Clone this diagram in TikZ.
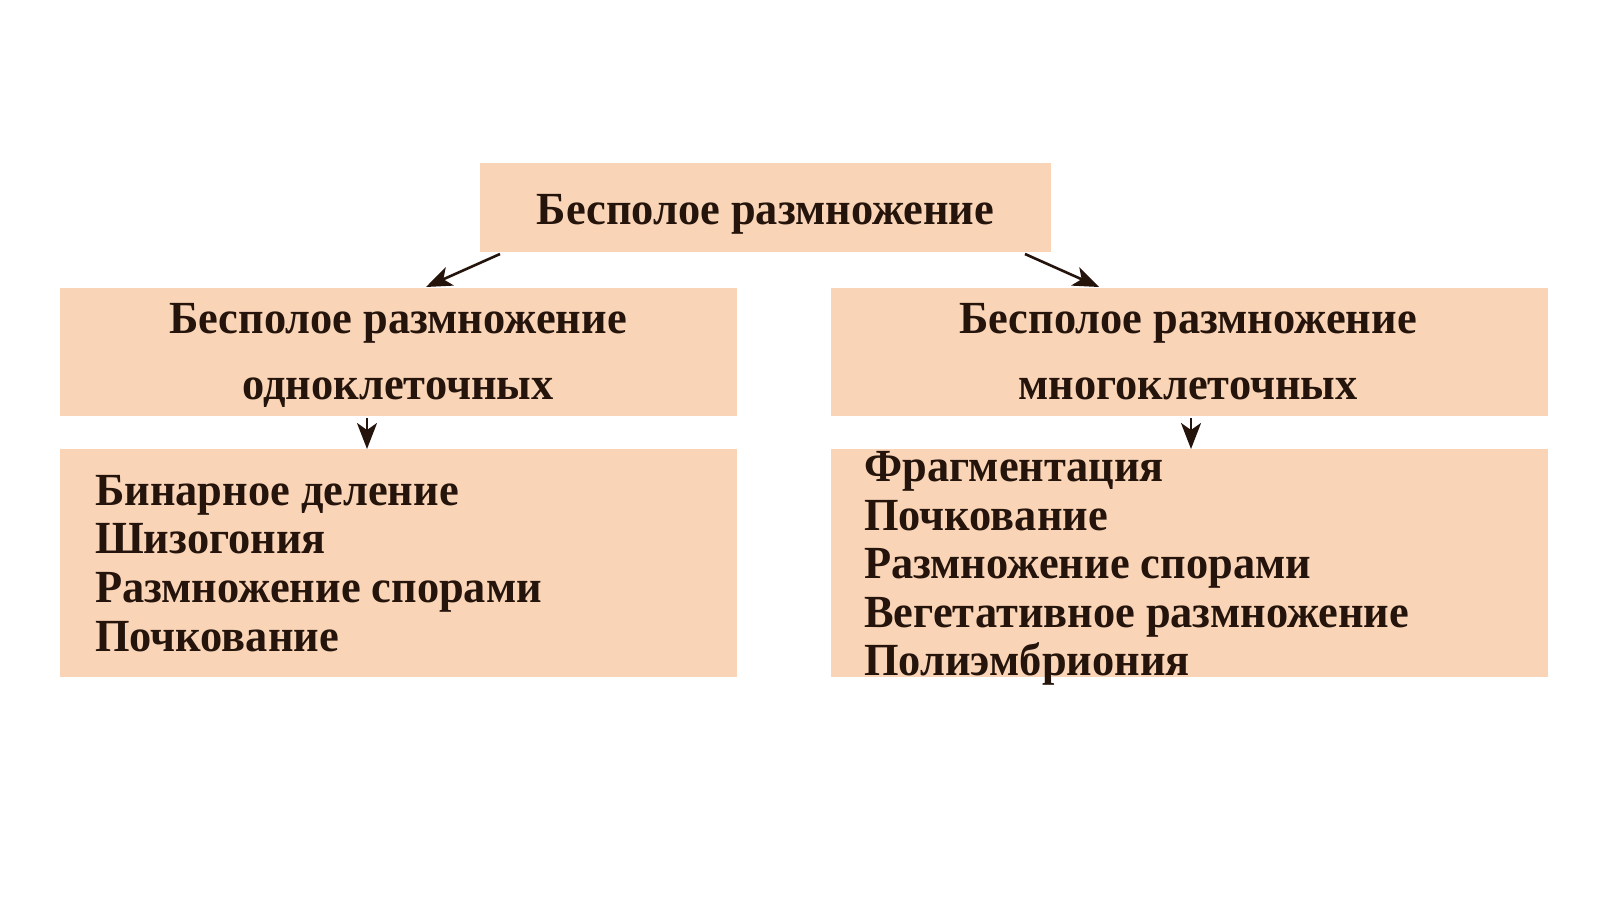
\documentclass[tikz,border=0pt]{standalone}
\usepackage{fontspec}
\setmainfont[FakeStretch=0.965]{Liberation Serif}
\usetikzlibrary{arrows.meta}
\definecolor{peach}{HTML}{F9D4B6}
\definecolor{ink}{HTML}{24140C}
\begin{document}
\begin{tikzpicture}[x=1pt,y=-1pt,
  box/.style={fill=peach, draw=none, inner sep=0pt, outer sep=0pt, anchor=north west},
  big/.style={inner sep=0pt, text=ink, font=\fontsize{46}{50}\selectfont\bfseries},
  mid/.style={inner sep=0pt, text=ink, font=\fontsize{46}{50}\selectfont\bfseries},
  item/.style={inner sep=0pt, text=ink, anchor=base west, font=\fontsize{46}{50}\selectfont\bfseries},
  conn/.style={draw=ink, line width=2.6pt, -{Stealth[length=26pt,width=20pt,inset=7pt]}}]
\useasboundingbox[fill=white] (0,0) rectangle (1600,899);
% boxes
\node[box, minimum width=571, minimum height=89] (top) at (480,163) {};
\node[box, minimum width=677, minimum height=128] (lmid) at (60,288) {};
\node[box, minimum width=717, minimum height=128] (rmid) at (831,288) {};
\node[box, minimum width=677, minimum height=228] (lbot) at (60,449) {};
\node[box, minimum width=717, minimum height=228] (rbot) at (831,449) {};
% texts
\node[big, anchor=base] (ttop) at (765.5,224) {Бесполое размножение};
\node[mid, anchor=base] (tl1) at (398,333) {Бесполое размножение};
\node[mid, anchor=base] (tl2) at (398,399) {одноклеточных};
\node[mid, anchor=base] (tr1) at (1188,333) {Бесполое размножение};
\node[mid, anchor=base] (tr2) at (1188,399) {многоклеточных};
\node[item] (l1) at (95,505) {Бинарное деление};
\node[item] (l2) at (95,553) {Шизогония};
\node[item] (l3) at (95,602) {Размножение спорами};
\node[item] (l4) at (95,651) {Почкование};
\node[item] (r1) at (864,481) {Фрагментация};
\node[item] (r2) at (864,530) {Почкование};
\node[item] (r3) at (864,578) {Размножение спорами};
\node[item] (r4) at (864,627) {Вегетативное размножение};
\node[item] (r5) at (864,675) {Полиэмбриония};
% connectors
\coordinate (a1s) at (500,254);
\coordinate (a1e) at (426,287);
\coordinate (a2s) at (1025,254);
\coordinate (a2e) at (1099,287);
\coordinate (a3s) at (367,418);
\coordinate (a3e) at (367,449);
\coordinate (a4s) at (1191,418);
\coordinate (a4e) at (1191,449);
\draw[conn] (a1s) -- (a1e);
\draw[conn] (a2s) -- (a2e);
\draw[conn] (a3s) -- (a3e);
\draw[conn] (a4s) -- (a4e);
\end{tikzpicture}
\end{document}
